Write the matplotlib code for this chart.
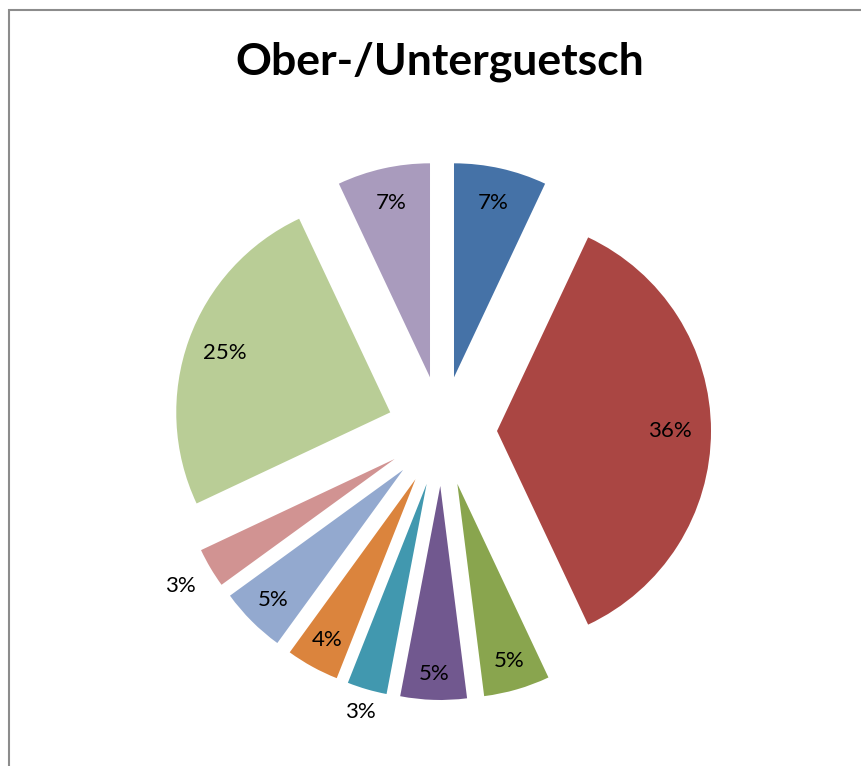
import matplotlib.pyplot as plt
from matplotlib.patches import Rectangle
import numpy as np

# values in percent, clockwise from 12 o'clock
values = [7, 36, 5, 5, 3, 4, 5, 3, 25, 7]
colors = ['#4572A7', '#AA4643', '#89A54E', '#71588F', '#4198AF',
          '#DB843D', '#93A9CF', '#D19392', '#B9CD96', '#A99BBD']
label_dist = [0.835, 0.81, 0.86, 0.88, 1.11, 0.86, 0.857, 1.164, 0.82, 0.837]
title = 'Ober-/Unterguetsch'

W, H = 861, 766
fig = plt.figure(figsize=(W / 100, H / 100), dpi=100)
ax = fig.add_axes([0, 0, 1, 1])

R = 214
EXPL = 55
center = (442, H - 431)
wedges, texts = ax.pie(values, colors=colors, radius=R, center=center,
                       explode=[EXPL] * len(values), startangle=90,
                       counterclock=False, frame=True,
                       wedgeprops=dict(linewidth=0))
ax.set_xlim(0, W)
ax.set_ylim(0, H)
ax.set_aspect('equal')
ax.axis('off')

# percentage labels
start = 90.0
for v, d in zip(values, label_dist):
    mid = np.deg2rad(start - v * 3.6 / 2)
    cx = center[0] + EXPL * np.cos(mid)
    cy = center[1] + EXPL * np.sin(mid)
    ax.text(cx + d * R * np.cos(mid), cy + d * R * np.sin(mid), f'{v}%',
            ha='center', va='center', fontsize=16, family='Lato',
            color='black')
    start -= v * 3.6

fig.text(440 / W, 1 - 62 / H, title, ha='center', va='center',
         fontsize=32, fontweight='bold', family='Lato')

# chart area border (top and left visible)
fig.add_artist(Rectangle((9 / W, -0.1), 1.2, 1.1 - 9.5 / H,
                         transform=fig.transFigure, fill=False,
                         edgecolor='#8c8c8c', linewidth=1.5))

fig.savefig('out.png', dpi=100)
